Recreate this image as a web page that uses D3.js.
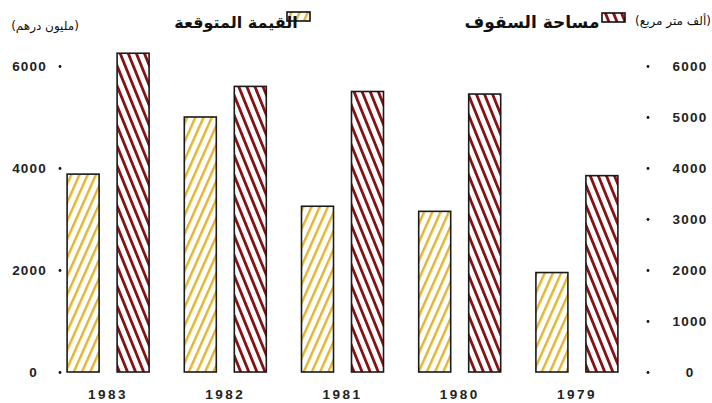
<!DOCTYPE html>
<html><head><meta charset="utf-8">
<script src="https://cdn.jsdelivr.net/npm/d3@7"></script>
<style>
html,body{margin:0;padding:0;background:#fff;}
svg{display:block;}
.tick text{font-family:"Liberation Sans","DejaVu Sans",sans-serif;fill:#222;}
</style></head>
<body><svg id="c" width="712" height="403"></svg>
<script>
const years = ["1983","1982","1981","1980","1979"];
const expectedValue = [3880, 5000, 3250, 3150, 1950];   // مليون درهم (left axis)
const roofArea = [6250, 5600, 5500, 5450, 3850];        // ألف متر مربع (right axis)
const leftTicks = [0, 2000, 4000, 6000];
const rightTicks = [0, 1000, 2000, 3000, 4000, 5000, 6000];
const seriesKeys = ["value", "area"];
const legendValue = "القيمة المتوقعة";
const legendArea = "مساحة السقوف";
const unitLeft = "(مليون درهم)";
const unitRight = "(ألف متر مربع)";

const svg = d3.select("#c");
const defs = svg.append("defs");
function stripes(id, color, angle, w, per) {
  const p = defs.append("pattern").attr("id", id).attr("patternUnits", "userSpaceOnUse")
    .attr("width", per).attr("height", per).attr("patternTransform", `rotate(${angle})`);
  p.append("rect").attr("width", per).attr("height", per).attr("fill", "#fff");
  p.append("rect").attr("x", 0).attr("y", 0).attr("width", w).attr("height", per).attr("fill", color);
}
stripes("pY", "#e2b52c", 24, 2.4, 7.5);
stripes("pR", "#861214", -22, 2.8, 7.5);
const fills = {value: "url(#pY)", area: "url(#pR)"};

const yL = d3.scaleLinear().domain([0, 6000]).range([372, 66]);
const yR = d3.scaleLinear().domain([0, 6000]).range([372, 66]);
const x = d3.scaleBand().domain(years).range([49.5, 635.5]).padding(0);
const xi = d3.scaleBand().domain(seriesKeys).range([17.6, 99.6]).paddingInner(0.36).paddingOuter(0);

const data = years.map((yr, i) => ({year: yr, value: expectedValue[i], area: roofArea[i]}));

const g = svg.append("g");
data.forEach(d => {
  seriesKeys.forEach(k => {
    const sc = k === "value" ? yL : yR;
    g.append("rect")
      .attr("x", x(d.year) + xi(k))
      .attr("y", sc(d[k]))
      .attr("width", xi.bandwidth())
      .attr("height", sc(0) - sc(d[k]))
      .attr("fill", fills[k])
      .attr("stroke", "#1a1a1a").attr("stroke-width", 1.6);
  });
});

// left axis
const ax = svg.append("g").attr("transform", "translate(60,0)")
  .call(d3.axisLeft(yL).tickValues(leftTicks).tickSize(0).tickPadding(13).tickFormat(d3.format("d")));
ax.select(".domain").remove();
ax.selectAll(".tick text").attr("font-size", 13.5).attr("font-weight", "bold").attr("letter-spacing", 1.2);
ax.selectAll(".tick").filter(d => d === 0).select("text").attr("x", -22);
ax.selectAll(".tick").append("circle").attr("r", 1.4).attr("fill", "#111");

// right axis
const ar = svg.append("g").attr("transform", "translate(648,0)")
  .call(d3.axisRight(yR).tickValues(rightTicks).tickSize(0).tickPadding(42).tickFormat(d3.format("d")));
ar.select(".domain").remove();
ar.selectAll(".tick text").attr("text-anchor", "middle").attr("font-size", 13.5).attr("font-weight", "bold").attr("letter-spacing", 1.2);
ar.selectAll(".tick").append("circle").attr("r", 1.4).attr("fill", "#111");

// bottom axis
const ab = svg.append("g").attr("transform", "translate(0,372)")
  .call(d3.axisBottom(x).tickSize(0).tickPadding(17));
ab.select(".domain").remove();
ab.selectAll(".tick text").attr("font-size", 13.5).attr("font-weight", "bold").attr("letter-spacing", 2.5);

// legend
const lg = svg.append("g").attr("font-family", "'DejaVu Sans',sans-serif").attr("fill", "#111");
lg.append("rect").attr("x", 287).attr("y", 12).attr("width", 23).attr("height", 9)
  .attr("fill", fills.value).attr("stroke", "#111").attr("stroke-width", 1.6);
lg.append("text").attr("x", 236).attr("y", 28).attr("text-anchor", "middle").attr("direction", "rtl")
  .attr("font-size", 16).attr("font-weight", "bold").text(legendValue);
lg.append("rect").attr("x", 602).attr("y", 13).attr("width", 23).attr("height", 9)
  .attr("fill", fills.area).attr("stroke", "#111").attr("stroke-width", 1.6);
lg.append("text").attr("x", 532).attr("y", 28).attr("text-anchor", "middle").attr("direction", "rtl")
  .attr("font-size", 17).attr("font-weight", "bold").text(legendArea);
lg.append("text").attr("x", 45).attr("y", 30).attr("text-anchor", "middle").attr("direction", "rtl")
  .attr("font-size", 12).text(unitLeft);
lg.append("text").attr("x", 673).attr("y", 25).attr("text-anchor", "middle").attr("direction", "rtl")
  .attr("font-size", 12).text(unitRight);
</script>
</body></html>
